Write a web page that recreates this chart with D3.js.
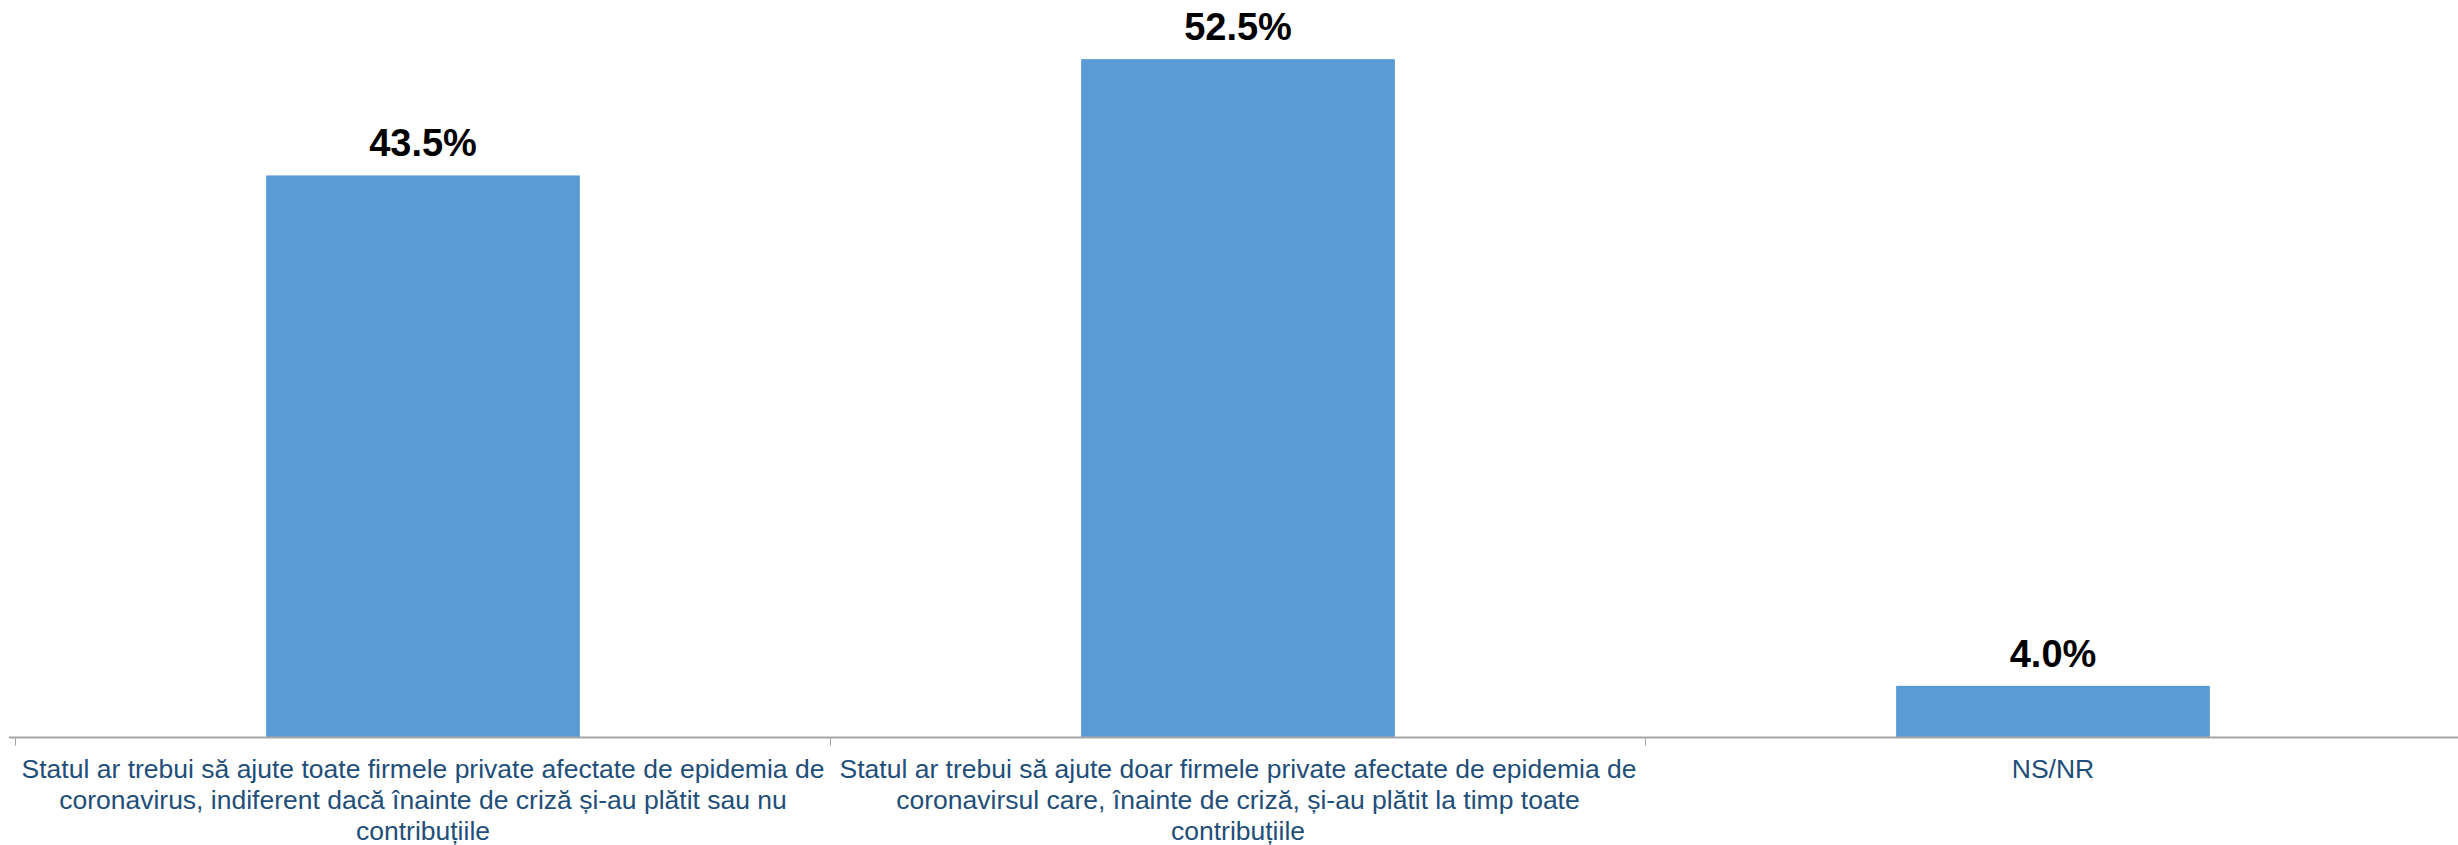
<!DOCTYPE html>
<html>
<head>
<meta charset="utf-8">
<script src="https://cdn.jsdelivr.net/npm/d3@7"></script>
<style>
  html, body { margin: 0; padding: 0; background: #fff; }
  svg { display: block; }
</style>
</head>
<body>
<div id="chart"></div>
<script>
const categories = [
  "Statul ar trebui să ajute toate firmele private afectate de epidemia de coronavirus, indiferent dacă înainte de criză și-au plătit sau nu contribuțiile",
  "Statul ar trebui să ajute doar firmele private afectate de epidemia de coronavirsul care, înainte de criză, și-au plătit la timp toate contribuțiile",
  "NS/NR"
];
const labelLines = [
  ["Statul ar trebui să ajute toate firmele private afectate de epidemia de", "coronavirus, indiferent dacă înainte de criză și-au plătit sau nu", "contribuțiile"],
  ["Statul ar trebui să ajute doar firmele private afectate de epidemia de", "coronavirsul care, înainte de criză, și-au plătit la timp toate", "contribuțiile"],
  ["NS/NR"]
];
const values = [43.5, 52.5, 4.0];
const valueLabels = ["43.5%", "52.5%", "4.0%"];

const W = 2458, H = 845;
const axisY = 737.5;

const svg = d3.select("#chart").append("svg")
  .attr("width", W).attr("height", H);

const x = d3.scaleBand()
  .domain(categories)
  .range([15.5, 2460.5])
  .paddingInner(0)
  .paddingOuter(0);

const y = d3.scaleLinear()
  .domain([0, 57])
  .range([axisY, 1]);

const barW = x.bandwidth() * 0.385;

// bars
svg.selectAll("rect.bar")
  .data(values)
  .join("rect")
  .attr("class", "bar")
  .attr("x", (d, i) => x(categories[i]) + x.bandwidth() / 2 - barW / 2)
  .attr("width", barW)
  .attr("y", d => y(d))
  .attr("height", d => y(0) - y(d))
  .attr("fill", "#5B9BD5");

// axis line
svg.append("line")
  .attr("x1", 9).attr("x2", W)
  .attr("y1", axisY).attr("y2", axisY)
  .attr("stroke", "#A6A6A6").attr("stroke-width", 2);

// ticks at band boundaries
const tickPos = categories.map(c => x(c));
svg.selectAll("line.tick")
  .data(tickPos)
  .join("line")
  .attr("class", "tick")
  .attr("x1", d => d).attr("x2", d => d)
  .attr("y1", axisY).attr("y2", axisY + 8)
  .attr("stroke", "#A6A6A6").attr("stroke-width", 1);

// value labels
svg.selectAll("text.val")
  .data(values)
  .join("text")
  .attr("class", "val")
  .attr("x", (d, i) => x(categories[i]) + x.bandwidth() / 2)
  .attr("y", d => y(d) - 19)
  .attr("text-anchor", "middle")
  .attr("font-family", "Liberation Sans, Arial, sans-serif")
  .attr("font-weight", "bold")
  .attr("font-size", 38)
  .attr("fill", "#000")
  .text((d, i) => valueLabels[i]);

// category labels
const lab = svg.selectAll("text.cat")
  .data(categories)
  .join("text")
  .attr("class", "cat")
  .attr("text-anchor", "middle")
  .attr("font-family", "Liberation Sans, Arial, sans-serif")
  .attr("font-size", 26.5)
  .attr("fill", "#1F4E79");

lab.each(function(c, i) {
  const t = d3.select(this);
  const cx = x(c) + x.bandwidth() / 2;
  labelLines[i].forEach((ln, j) => {
    t.append("tspan")
      .attr("x", cx)
      .attr("y", 778 + j * 31)
      .text(ln);
  });
});
</script>
</body>
</html>
